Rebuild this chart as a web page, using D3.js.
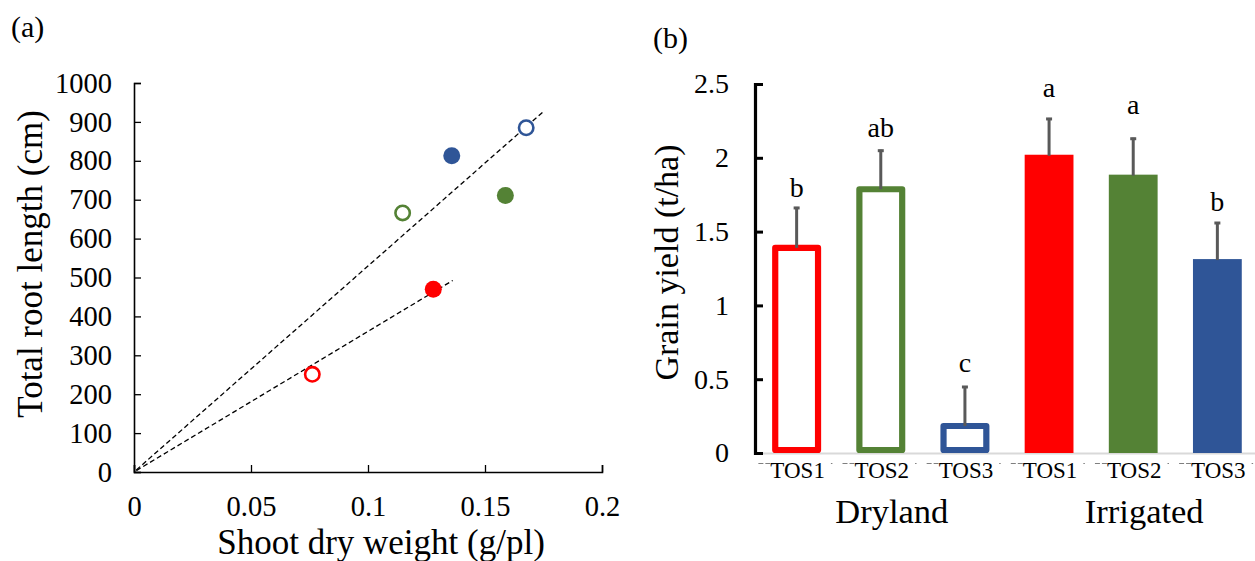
<!DOCTYPE html>
<html>
<head>
<meta charset="utf-8">
<script src="https://cdn.jsdelivr.net/npm/d3@7/dist/d3.min.js"></script>
<style>
  html, body { margin: 0; padding: 0; background: #fff; }
  svg { display: block; font-family: "Liberation Serif", "Times New Roman", serif; }
</style>
</head>
<body>
<div id="chart"></div>
<script>
// Panel (a): shoot dry weight vs total root length
const pointX = [0.0762, 0.1148, 0.1676, 0.1279, 0.1587, 0.1358];
const pointY = [251, 666, 885, 470, 711, 813];
const pointColor = ["#FF0000", "#548235", "#2F5597", "#FF0000", "#548235", "#2F5597"];
const pointOpen = [true, true, true, false, false, false];
// dashed trend lines through origin: [x start, x end, slope]
const trendLines = [[0.001, 0.1755, 5295], [0.001, 0.1362, 3615]];
const xTicksA = [0, 0.05, 0.1, 0.15, 0.2];
const yTicksA = [0, 100, 200, 300, 400, 500, 600, 700, 800, 900, 1000];

// Panel (b): grain yield
const categories = ["D-TOS1", "D-TOS2", "D-TOS3", "I-TOS1", "I-TOS2", "I-TOS3"];
const catLabels = ["TOS1", "TOS2", "TOS3", "TOS1", "TOS2", "TOS3"];
const groups = ["Dryland", "Irrigated"];
const yieldVals = [1.39, 1.787, 0.183, 2.014, 1.879, 1.307];
const yieldErr = [0.277, 0.268, 0.271, 0.256, 0.257, 0.258];
const letters = ["b", "ab", "c", "a", "a", "b"];
const letterY = [1.734, 2.143, 0.549, 2.41, 2.297, 1.64];
const barColor = ["#FF0000", "#548235", "#2F5597", "#FF0000", "#548235", "#2F5597"];
const barOpen = [true, true, true, false, false, false];
const yTicksB = [0, 0.5, 1, 1.5, 2, 2.5];

const width = 1255, height = 561;
const svg = d3.select("#chart").append("svg")
  .attr("width", width).attr("height", height);

const styleAxisText = (g, size) => g.selectAll("text")
  .attr("font-size", size).attr("font-family", "Liberation Serif").attr("fill", "#000");

// ---------- panel (a) ----------
const xA = d3.scaleLinear().domain([0, 0.2]).range([134, 602]);
const yA = d3.scaleLinear().domain([0, 1000]).range([472, 83]);
const gA = svg.append("g");

gA.append("text").attr("x", 11).attr("y", 37).attr("font-size", 30).text("(a)");

gA.append("g").attr("transform", `translate(0,${yA(0)})`)
  .call(d3.axisBottom(xA).tickValues(xTicksA).tickSize(-7).tickPadding(24)
    .tickFormat(d => d3.format("~g")(d)))
  .call(g => g.select(".domain").attr("stroke-width", 1.6))
  .call(g => g.selectAll(".tick line").attr("stroke-width", 1.3))
  .call(g => styleAxisText(g, 28.5));

gA.append("g").attr("transform", `translate(${xA(0)},0)`)
  .call(d3.axisLeft(yA).tickValues(yTicksA).tickSize(-7).tickPadding(22)
    .tickFormat(d3.format("d")))
  .call(g => g.select(".domain").attr("stroke-width", 1.6))
  .call(g => g.selectAll(".tick line").attr("stroke-width", 1.3))
  .call(g => styleAxisText(g, 28.5));

gA.append("text").attr("x", (xA(0) + xA(0.2)) / 2 + 13).attr("y", 554)
  .attr("text-anchor", "middle").attr("font-size", 35).text("Shoot dry weight (g/pl)");
gA.append("text").attr("transform", "translate(42,264) rotate(-90)")
  .attr("text-anchor", "middle").attr("font-size", 35).text("Total root length (cm)");

gA.selectAll("line.trend").data(trendLines).join("line").attr("class", "trend")
  .attr("x1", d => xA(d[0])).attr("y1", d => yA(d[0] * d[2]))
  .attr("x2", d => xA(d[1])).attr("y2", d => yA(d[1] * d[2]))
  .attr("stroke", "#000").attr("stroke-width", 1.3).attr("stroke-dasharray", "5,3");

gA.selectAll("circle.pt").data(pointX).join("circle").attr("class", "pt")
  .attr("cx", d => xA(d)).attr("cy", (d, i) => yA(pointY[i]))
  .attr("r", (d, i) => pointOpen[i] ? 7.2 : 8.5)
  .attr("fill", (d, i) => pointOpen[i] ? "#fff" : pointColor[i])
  .attr("stroke", (d, i) => pointOpen[i] ? pointColor[i] : "none")
  .attr("stroke-width", 2.6);

// ---------- panel (b) ----------
const xB = d3.scaleBand().domain(categories).range([757, 1257])
  .paddingInner(0.42).paddingOuter(0.181);
const yB = d3.scaleLinear().domain([0, 2.5]).range([453, 84]);
const gB = svg.append("g");

gB.append("text").attr("x", 653).attr("y", 48).attr("font-size", 30).text("(b)");

// light category axis
gB.append("line").attr("x1", 755).attr("x2", width).attr("y1", yB(0) + 0.5).attr("y2", yB(0) + 0.5)
  .attr("stroke", "#d9d9d9").attr("stroke-width", 2);

// category labels with the faint dash marks either side
const labG = gB.append("g");
categories.forEach((c, i) => {
  const cx = xB(c) + xB.bandwidth() / 2;
  const t = labG.append("text").attr("x", cx + 1).attr("y", 478)
    .attr("text-anchor", "middle").attr("font-size", 23).text(catLabels[i]);
  const bb = t.node().getBBox();
  labG.append("line").attr("x1", bb.x - 12).attr("x2", bb.x).attr("y1", 463.5).attr("y2", 463.5)
    .attr("stroke", "#7f7f7f").attr("stroke-width", 1).attr("stroke-dasharray", "5,2");
  labG.append("line").attr("x1", bb.x + bb.width + 6).attr("x2", bb.x + bb.width + 7.5)
    .attr("y1", 463.5).attr("y2", 463.5).attr("stroke", "#7f7f7f").attr("stroke-width", 1);
});

groups.forEach((g, gi) => {
  const first = xB(categories[gi * 3]);
  const last = xB(categories[gi * 3 + 2]) + xB.bandwidth();
  gB.append("text").attr("x", (first + last) / 2 + 11).attr("y", 523)
    .attr("text-anchor", "middle").attr("font-size", 34.5).text(g);
});

// bars
gB.selectAll("rect.bar").data(yieldVals).join("rect").attr("class", "bar")
  .attr("x", (d, i) => xB(categories[i]) + (barOpen[i] ? 3 : 0))
  .attr("width", (d, i) => xB.bandwidth() - (barOpen[i] ? 6 : 0))
  .attr("y", (d, i) => yB(d) + (barOpen[i] ? 0 : -1))
  .attr("height", (d, i) => yB(0) - yB(d) - (barOpen[i] ? 3 : -1))
  .attr("fill", (d, i) => barOpen[i] ? "#fff" : barColor[i])
  .attr("stroke", (d, i) => barOpen[i] ? barColor[i] : "none")
  .attr("stroke-width", 6.2).attr("stroke-linejoin", "round");

// error bars (upper only)
const eb = gB.append("g").attr("stroke", "#595959").attr("stroke-width", 3);
yieldVals.forEach((v, i) => {
  const cx = xB(categories[i]) + xB.bandwidth() / 2;
  eb.append("line").attr("x1", cx).attr("x2", cx).attr("y1", yB(v)).attr("y2", yB(v + yieldErr[i]));
  eb.append("line").attr("x1", cx - 3).attr("x2", cx + 3)
    .attr("y1", yB(v + yieldErr[i]) + 1).attr("y2", yB(v + yieldErr[i]) + 1);
});

gB.selectAll("text.letter").data(letters).join("text").attr("class", "letter")
  .attr("x", (d, i) => xB(categories[i]) + xB.bandwidth() / 2)
  .attr("y", (d, i) => yB(letterY[i]))
  .attr("text-anchor", "middle").attr("font-size", 28).text(d => d);

// y axis
gB.append("g").attr("transform", "translate(755,0)")
  .call(d3.axisLeft(yB).tickValues(yTicksB).tickSize(-8).tickPadding(26)
    .tickFormat(d => d3.format("~g")(d)))
  .call(g => g.select(".domain").attr("stroke-width", 3.2))
  .call(g => g.selectAll(".tick line").attr("stroke-width", 3))
  .call(g => styleAxisText(g, 28));

gB.append("text").attr("transform", `translate(678,${(yB(0) + yB(2.5)) / 2 - 6}) rotate(-90)`)
  .attr("text-anchor", "middle").attr("font-size", 34).text("Grain yield (t/ha)");
</script>
</body>
</html>
